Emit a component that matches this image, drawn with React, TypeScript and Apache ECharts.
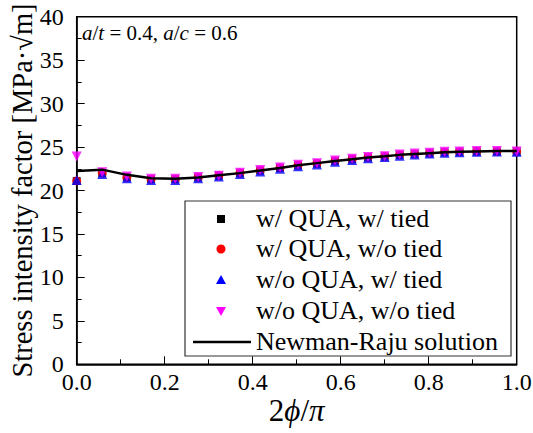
import React, { useEffect, useRef } from "react";
import * as echarts from "echarts";

// Normalised crack-front position 2φ/π
const positions = [0, 0.058, 0.114, 0.169, 0.224, 0.276, 0.323, 0.371, 0.417, 0.462, 0.503, 0.546, 0.587, 0.626, 0.662, 0.7, 0.734, 0.768, 0.802, 0.836, 0.87, 0.909, 0.955, 1.0];

// Stress intensity factor [MPa·√m] for each model variant
const quaTied = [21.1, 22.0, 21.5, 21.3, 21.3, 21.5, 21.7, 22.0, 22.3, 22.6, 22.9, 23.1, 23.4, 23.6, 23.8, 23.9, 24.1, 24.2, 24.3, 24.4, 24.45, 24.5, 24.5, 24.5];
const quaNoTied = [21.1, 22.0, 21.5, 21.3, 21.3, 21.5, 21.7, 22.0, 22.3, 22.6, 22.9, 23.1, 23.4, 23.6, 23.8, 23.9, 24.1, 24.2, 24.3, 24.4, 24.45, 24.5, 24.5, 24.5];
const noQuaTied = [21.2, 21.9, 21.4, 21.2, 21.2, 21.4, 21.6, 21.9, 22.2, 22.5, 22.8, 23.0, 23.3, 23.5, 23.7, 23.85, 24.0, 24.15, 24.25, 24.35, 24.4, 24.45, 24.5, 24.45];
const noQuaNoTied = [23.9, 22.1, 21.6, 21.35, 21.35, 21.55, 21.7, 22.05, 22.35, 22.65, 22.95, 23.15, 23.45, 23.65, 23.85, 23.95, 24.15, 24.25, 24.35, 24.45, 24.5, 24.55, 24.55, 24.5];
const newmanRaju = [22.25, 22.4, 21.8, 21.4, 21.35, 21.5, 21.75, 22.0, 22.3, 22.6, 22.9, 23.15, 23.4, 23.6, 23.8, 23.95, 24.1, 24.2, 24.3, 24.4, 24.45, 24.5, 24.55, 24.55];

const seriesNames = [
  "w/ QUA, w/ tied",
  "w/ QUA, w/o tied",
  "w/o QUA, w/ tied",
  "w/o QUA, w/o tied",
  "Newman-Raju solution",
];

const FONT = "Liberation Serif";

const pair = (ys: number[]) => positions.map((x, i) => [x, ys[i]]);

export default function App() {
  const ref = useRef<HTMLDivElement>(null);

  useEffect(() => {
    if (!ref.current) return;
    const chart = echarts.init(ref.current, undefined, { renderer: "svg" });

    const gl = { left: 185, top: 201, rowY: [219, 249, 280, 311, 342], mx: 221, tx: 256 };
    const legendText = (i: number) => ({
      type: "text",
      left: gl.tx,
      top: gl.rowY[i] - 14,
      style: { text: seriesNames[i], font: `26px '${FONT}'`, fill: "#000" },
      z: 20,
    });

    chart.setOption({
      animation: false,
      backgroundColor: "#fff",
      grid: {
        left: 76.7,
        right: 16.3,
        top: 16.7,
        bottom: 68.7,
        outerBoundsMode: "none",
        containLabel: false,
        show: true,
        borderColor: "#000",
        borderWidth: 1.5,
      },
      xAxis: {
        type: "value",
        min: 0,
        max: 1,
        interval: 0.2,
        name: "{n|2}{i|ϕ}{n|/}{i|π}",
        nameLocation: "middle",
        nameGap: 31,
        nameMoveOverlap: false,
        nameTextStyle: {
          rich: {
            n: { fontFamily: FONT, fontSize: 31, color: "#000" },
            i: { fontFamily: FONT, fontSize: 31, fontStyle: "italic", color: "#000" },
          },
        },
        axisLine: { show: true, lineStyle: { color: "#000", width: 1.5 } },
        axisTick: { show: true, inside: true, length: 8, lineStyle: { color: "#000" } },
        minorTick: { show: true, splitNumber: 2, length: 5, lineStyle: { color: "#000" } },
        splitLine: { show: false },
        axisLabel: {
          margin: 8,
          fontFamily: FONT,
          fontSize: 24,
          lineHeight: 20,
          color: "#000",
          formatter: (v: number) => v.toFixed(1),
        },
      },
      yAxis: {
        type: "value",
        min: 0,
        max: 40,
        interval: 5,
        name: "Stress intensity factor [MPa·√m]",
        nameLocation: "middle",
        nameGap: 40,
        nameMoveOverlap: false,
        nameTextStyle: { fontFamily: FONT, fontSize: 28.5, color: "#000" },
        axisLine: { show: true, lineStyle: { color: "#000", width: 1.5 } },
        axisTick: { show: true, inside: true, length: 8, lineStyle: { color: "#000" } },
        minorTick: { show: true, splitNumber: 2, length: 5, lineStyle: { color: "#000" } },
        splitLine: { show: false },
        axisLabel: { margin: 13, fontFamily: FONT, fontSize: 24, lineHeight: 16, color: "#000" },
      },
      series: [
        {
          name: seriesNames[0],
          type: "scatter",
          symbol: "rect",
          symbolSize: 8,
          itemStyle: { color: "#000" },
          data: pair(quaTied),
        },
        {
          name: seriesNames[1],
          type: "scatter",
          symbol: "circle",
          symbolSize: 9,
          itemStyle: { color: "#ff0000" },
          data: pair(quaNoTied),
        },
        {
          name: seriesNames[2],
          type: "scatter",
          symbol: "triangle",
          symbolSize: 10,
          itemStyle: { color: "#0000ff" },
          data: pair(noQuaTied),
        },
        {
          name: seriesNames[3],
          type: "scatter",
          symbol: "triangle",
          symbolRotate: 180,
          symbolSize: 10,
          itemStyle: { color: "#ff00ff" },
          data: pair(noQuaNoTied),
        },
        {
          name: seriesNames[4],
          type: "line",
          showSymbol: false,
          symbol: "none",
          lineStyle: { color: "#000", width: 2.5 },
          data: pair(newmanRaju),
        },
      ],
      graphic: [
        {
          type: "text",
          left: 82,
          top: 22,
          style: {
            text: "{i|a}{n|/}{i|t}{n| = 0.4, }{i|a}{n|/}{i|c}{n| = 0.6}",
            rich: {
              n: { fontFamily: FONT, fontSize: 21, fill: "#000" },
              i: { fontFamily: FONT, fontSize: 21, fontStyle: "italic", fill: "#000" },
            },
          },
        },
        {
          type: "rect",
          shape: { x: gl.left, y: gl.top, width: 326, height: 155 },
          style: { fill: "#fff", stroke: "#333", lineWidth: 1.2 },
          z: 10,
        },
        {
          type: "rect",
          shape: { x: gl.mx - 4, y: gl.rowY[0] - 4, width: 8, height: 8 },
          style: { fill: "#000" },
          z: 20,
        },
        {
          type: "circle",
          shape: { cx: gl.mx, cy: gl.rowY[1], r: 4.5 },
          style: { fill: "#ff0000" },
          z: 20,
        },
        {
          type: "polygon",
          shape: { points: [[gl.mx, gl.rowY[2] - 5], [gl.mx + 5, gl.rowY[2] + 4], [gl.mx - 5, gl.rowY[2] + 4]] },
          style: { fill: "#0000ff" },
          z: 20,
        },
        {
          type: "polygon",
          shape: { points: [[gl.mx - 5, gl.rowY[3] - 4], [gl.mx + 5, gl.rowY[3] - 4], [gl.mx, gl.rowY[3] + 5]] },
          style: { fill: "#ff00ff" },
          z: 20,
        },
        {
          type: "line",
          shape: { x1: 193, y1: gl.rowY[4], x2: 251, y2: gl.rowY[4] },
          style: { stroke: "#000", lineWidth: 2.5 },
          z: 20,
        },
        legendText(0),
        legendText(1),
        legendText(2),
        legendText(3),
        legendText(4),
      ],
    });

    return () => chart.dispose();
  }, []);

  return <div ref={ref} style={{ width: 533, height: 433, position: "absolute", left: 0, top: 0 }} />;
}
